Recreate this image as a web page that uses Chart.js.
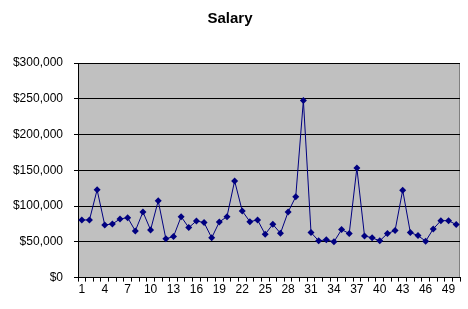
<!DOCTYPE html>
<html>
<head>
<meta charset="utf-8">
<script src="https://cdn.jsdelivr.net/npm/chart.js@4/dist/chart.umd.min.js"></script>
<style>
  html, body { margin: 0; padding: 0; background: #fff; }
  #wrap { width: 468px; height: 309px; }
</style>
</head>
<body>
<div id="wrap"><canvas id="salaryChart" width="468" height="309"></canvas></div>
<script>
var employees = [];
for (var i = 1; i <= 50; i++) employees.push(String(i));

var salaries = [
    80600, 80600, 122700, 73600, 75000, 81900, 83800, 65300, 91700, 66700,
    107400, 54200, 57400, 85200, 69900, 79200, 76900, 55600, 77800, 85200,
    135200, 93100, 78200, 80600, 60600, 74500, 62000, 91700, 113000, 247700,
    63000, 51400, 52800, 50000, 67100, 61600, 153200, 58300, 55600, 51400,
    61600, 65700, 122200, 63000, 58800, 50900, 68000, 79600, 79600, 74100
];

var yTicks = [0, 50000, 100000, 150000, 200000, 250000, 300000];

var plotBg = {
    id: 'plotBg',
    beforeDraw: function (chart) {
        var a = chart.chartArea, ctx = chart.ctx;
        ctx.save();
        ctx.fillStyle = "#C0C0C0";
        ctx.fillRect(a.left, a.top, a.right - a.left, a.bottom - a.top);
        ctx.strokeStyle = "#808080";
        ctx.lineWidth = 1;
        ctx.beginPath();
        ctx.moveTo(a.left, a.top + 0.5);
        ctx.lineTo(a.right - 0.5, a.top + 0.5);
        ctx.lineTo(a.right - 0.5, a.bottom);
        ctx.stroke();
        ctx.restore();
    }
};

var font = "Arial, 'Liberation Sans', sans-serif";

var salaryCtx = document.getElementById("salaryChart");

var salaryChart = new Chart(salaryCtx, {
    type: 'line',
    data: {
        labels: employees,
        datasets: [
            {
                data: salaries,
                borderColor: "#000080",
                backgroundColor: "#000080",
                borderWidth: 1,
                pointStyle: 'rectRot',
                pointRadius: 3.5,
                pointBorderWidth: 0,
                tension: 0
            }
        ]
    },
    options: {
        responsive: false,
        animation: false,
        layout: { padding: { top: 0, right: 8, bottom: 11, left: 0 } },
        plugins: {
            legend: { display: false },
            tooltip: { enabled: false },
            title: {
                display: true,
                text: 'Salary',
                color: '#000',
                font: { family: font, size: 15, weight: 'bold' },
                padding: { top: 10, bottom: 35 }
            }
        },
        scales: {
            x: {
                offset: true,
                grid: {
                    offset: true,
                    drawOnChartArea: false,
                    drawTicks: true,
                    tickLength: 4,
                    color: '#000'
                },
                border: { color: '#000' },
                ticks: {
                    autoSkip: false,
                    maxRotation: 0,
                    padding: 1,
                    color: '#000',
                    font: { family: font, size: 12 },
                    callback: function (val, idx) {
                        return idx % 3 === 0 ? employees[idx] : '';
                    }
                }
            },
            y: {
                min: yTicks[0],
                max: yTicks[yTicks.length - 1],
                afterFit: function (scale) { scale.width = 78; },
                afterBuildTicks: function (scale) {
                    scale.ticks = yTicks.map(function (v) { return { value: v }; });
                },
                grid: { color: '#000', tickLength: 4 },
                border: { color: '#000' },
                ticks: {
                    padding: 11,
                    color: '#000',
                    font: { family: font, size: 12 },
                    callback: function (v) { return '$' + v.toLocaleString('en-US'); }
                }
            }
        }
    },
    plugins: [plotBg]
});
</script>
</body>
</html>
